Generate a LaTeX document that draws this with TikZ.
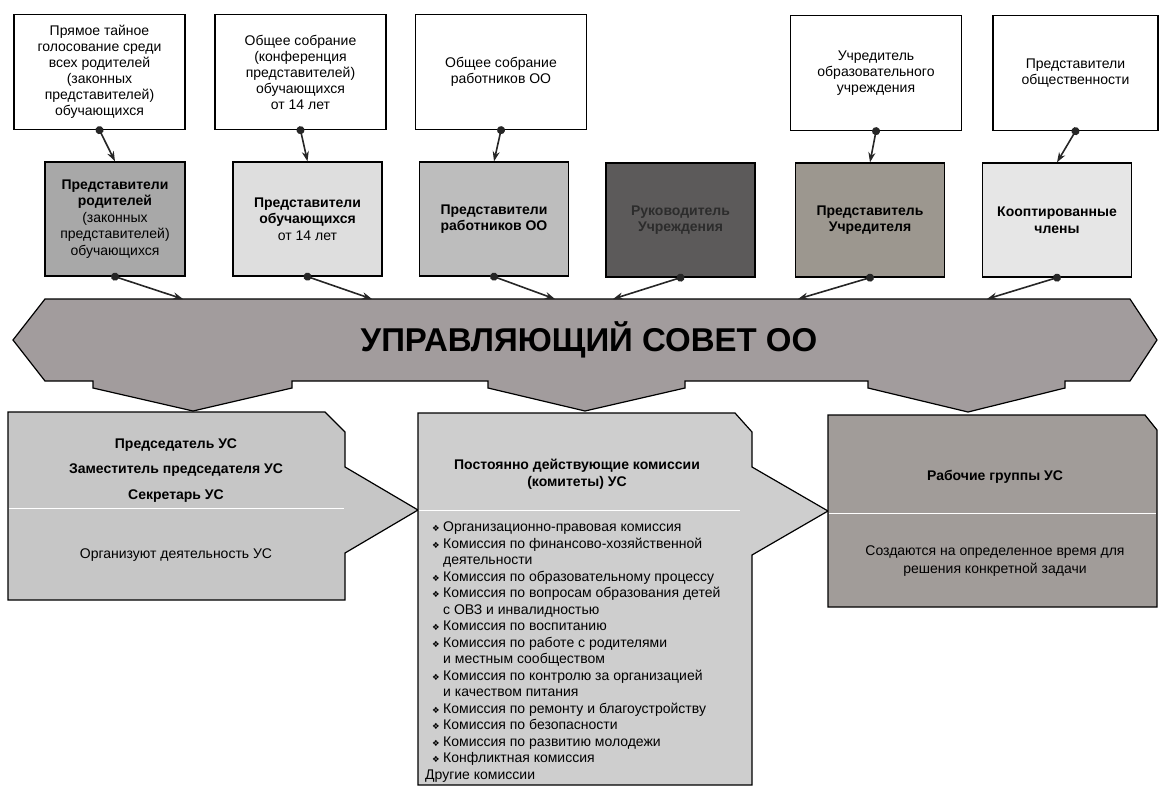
\documentclass[tikz,border=0pt]{standalone}
\usepackage{fontspec}
\setmainfont{Liberation Sans}
\newfontfamily\dingfont{DejaVu Sans}
\usepackage{tikz}
\usetikzlibrary{arrows.meta}
\definecolor{repA}{HTML}{A8A8A8}
\definecolor{repB}{HTML}{DEDEDE}
\definecolor{repC}{HTML}{BDBDBD}
\definecolor{repD}{HTML}{5C5A5A}
\definecolor{repDtext}{HTML}{2C2C2C}
\definecolor{repE}{HTML}{9C978F}
\definecolor{repF}{HTML}{E6E6E6}
\definecolor{council}{HTML}{A29C9D}
\definecolor{leftpanel}{HTML}{C6C6C6}
\definecolor{midpanel}{HTML}{CECECE}
\definecolor{rightpanel}{HTML}{A19C99}
\tikzset{
  srcbox/.style={draw, line width=1.3pt, fill=white, minimum width=171pt, minimum height=115pt,
    align=center, inner sep=1pt, font=\fontsize{14}{16}\selectfont},
  repbox/.style={draw, line width=1.3pt, minimum width=149pt, minimum height=114pt,
    align=center, inner sep=1pt, font=\fontsize{14}{16.5}\selectfont},
  link/.style={line width=1.6pt, draw=black!85, shorten <=-4pt,
    {Circle[length=8pt]}-{Stealth[length=10pt,width=7pt]}},
  panel/.style={line width=1.2pt},
  splitline/.style={white, line width=1pt},
  headtxt/.style={font=\bfseries\fontsize{14}{17}\selectfont, align=center, inner sep=0pt},
  plaintxt/.style={font=\fontsize{14}{18}\selectfont, align=center, inner sep=0pt},
  listtxt/.style={font=\fontsize{14}{16.5}\selectfont, align=left, inner sep=0pt}
}
\newcommand\blt{\makebox[11pt][l]{\dingfont\fontsize{8.5}{8.5}\selectfont ❖}}
\begin{document}
\begin{tikzpicture}[x=1pt,y=-1pt]
  \useasboundingbox (0,0) rectangle (1159,790);

  \node[srcbox] (t1) at (99.5,72) {Прямое тайное\\голосование среди\\всех родителей\\(законных\\представителей)\\обучающихся};
  \node[srcbox] (t2) at (300.5,72) {Общее собрание\\(конференция\\представителей)\\обучающихся\\от 14 лет};
  \node[srcbox] (t3) at (501,72) {Общее собрание\\работников ОО};
  \node[srcbox] (t4) at (876,73) {Учредитель\\образовательного\\учреждения};
  \node[srcbox, minimum width=165pt] (t5) at (1075.5,73) {Представители\\общественности};

  \node[repbox, fill=repA, minimum width=140pt] (r1) at (115,219) {\textbf{Представители}\\\textbf{родителей}\\(законных\\представителей)\\обучающихся};
  \node[repbox, fill=repB] (r2) at (307.5,219) {\textbf{Представители}\\\textbf{обучающихся}\\от 14 лет};
  \node[repbox, fill=repC] (r3) at (494,219) {\textbf{Представители}\\\textbf{работников ОО}};
  \node[repbox, fill=repD, text=repDtext] (r4) at (680.5,220) {\textbf{Руководитель}\\\textbf{Учреждения}};
  \node[repbox, fill=repE] (r5) at (870,220) {\textbf{Представитель}\\\textbf{Учредителя}};
  \node[repbox, fill=repF] (r6) at (1057,220) {\textbf{Кооптированные}\\\textbf{члены}};

  \draw[panel, fill=council] (13,340) -- (45,299) -- (1130,299) -- (1157,340) -- (1130,381)
    -- (1065,381) -- (1065,388) -- (968,412) -- (868,388) -- (868,381)
    -- (685,381) -- (685,388) -- (585,411) -- (488,388) -- (488,381)
    -- (292,381) -- (292,388) -- (193,411) -- (93,388) -- (93,381) -- (45,381) -- cycle;
  \node[font=\bfseries\fontsize{33}{33}\selectfont, anchor=base] (uc) at (589,351) {УПРАВЛЯЮЩИЙ СОВЕТ ОО};

  \coordinate (a1) at (183,299);
  \coordinate (a2) at (372,299);
  \coordinate (a3) at (555,299);
  \coordinate (a4) at (613,299);
  \coordinate (a5) at (798,299);
  \coordinate (a6) at (987,299);

  \draw[link] (t1.south) -- (r1.north);
  \draw[link] (t2.south) -- (r2.north);
  \draw[link] (t3.south) -- (r3.north);
  \draw[link] (t4.south) -- (r5.north);
  \draw[link] (t5.south) -- (r6.north);
  \draw[link] (r1.south) -- (a1);
  \draw[link] (r2.south) -- (a2);
  \draw[link] (r3.south) -- (a3);
  \draw[link] (r4.south) -- (a4);
  \draw[link] (r5.south) -- (a5);
  \draw[link] (r6.south) -- (a6);

  \draw[panel, fill=leftpanel] (8,412) -- (325,412) -- (345,432) -- (345,467) -- (418,510)
    -- (345,553) -- (345,600) -- (8,600) -- cycle;
  \draw[splitline] (9,508) -- (344,508);
  \node[headtxt] (chair) at (176,445) {Председатель УС};
  \node[headtxt] (deputy) at (176,470) {Заместитель председателя УС};
  \node[headtxt] (secr) at (176,496) {Секретарь УС};
  \node[plaintxt] (orgact) at (176,555) {Организуют деятельность УС};

  \draw[panel, fill=midpanel] (418,413) -- (735,413) -- (752,432) -- (752,467) -- (828,511)
    -- (752,555) -- (752,785) -- (418,785) -- cycle;
  \draw[splitline] (419,510) -- (740,510);
  \node[headtxt] (comm) at (577,474) {Постоянно действующие комиссии\\(комитеты) УС};
  \node[listtxt, anchor=north west] (commlist) at (432,522) {\blt Организационно-правовая комиссия\\
    \blt Комиссия по финансово-хозяйственной\\
    \hspace*{11pt}деятельности\\
    \blt Комиссия по образовательному процессу\\
    \blt Комиссия по вопросам образования детей\\
    \hspace*{11pt}с ОВЗ и инвалидностью\\
    \blt Комиссия по воспитанию\\
    \blt Комиссия по работе с родителями\\
    \hspace*{11pt}и местным сообществом\\
    \blt Комиссия по контролю за организацией\\
    \hspace*{11pt}и качеством питания\\
    \blt Комиссия по ремонту и благоустройству\\
    \blt Комиссия по безопасности\\
    \blt Комиссия по развитию молодежи\\
    \blt Конфликтная комиссия\\
    \hspace*{-7pt}Другие комиссии};

  \draw[panel, fill=rightpanel] (828,415) -- (1145,415) -- (1157,430) -- (1157,607) -- (828,607) -- cycle;
  \draw[splitline] (829,513) -- (1156,513);
  \node[headtxt] (wgroups) at (995,477) {Рабочие группы УС};
  \node[plaintxt] (wgdesc) at (995,561) {Создаются на определенное время для\\решения конкретной задачи};
\end{tikzpicture}
\end{document}
